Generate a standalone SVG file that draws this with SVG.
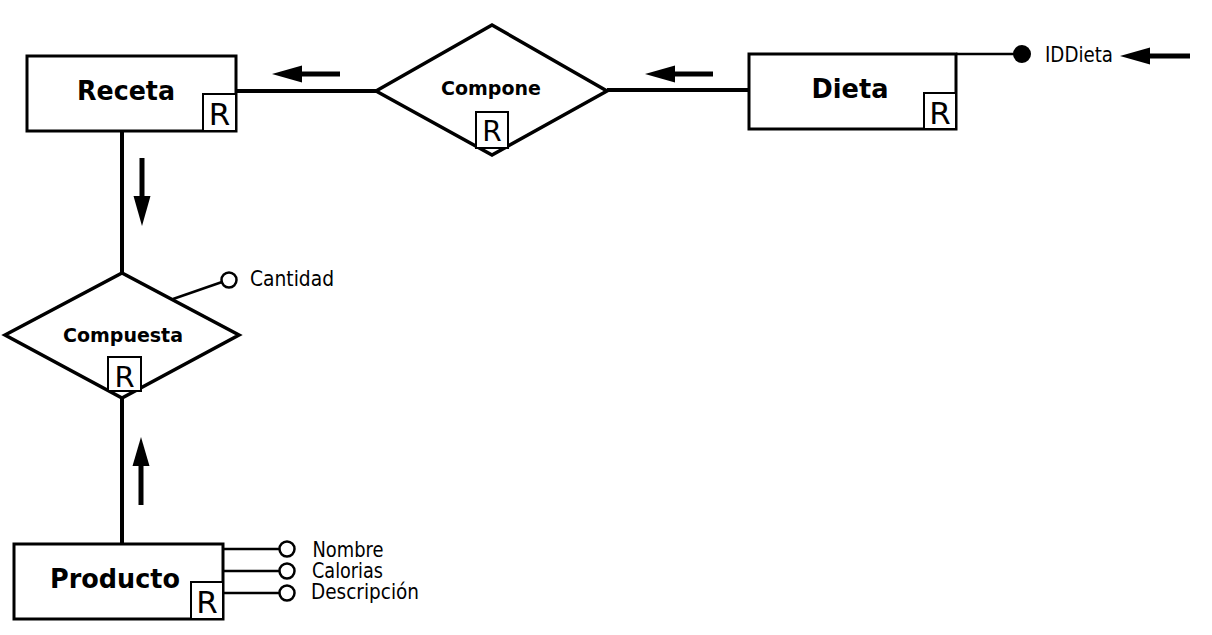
<svg xmlns="http://www.w3.org/2000/svg" width="1212" height="635" viewBox="0 0 1212 635">
<style>
.ent{fill:#fff;stroke:#000;stroke-width:3}
.rel{fill:#fff;stroke:#000;stroke-width:3.5;stroke-linejoin:miter}
.rbox{fill:#fff;stroke:#000;stroke-width:2}
.rtxt{font-family:"DejaVu Sans",sans-serif;font-size:31px;text-anchor:middle;fill:#000}
.etxt{font-family:"DejaVu Sans",sans-serif;font-weight:bold;font-size:27px;text-anchor:middle;fill:#000}
.reltxt{font-family:"DejaVu Sans",sans-serif;font-weight:bold;font-size:19px;text-anchor:middle;fill:#000}
.atxt{font-family:"DejaVu Sans",sans-serif;font-size:21.5px;fill:#000}
.conn{stroke:#000;stroke-width:4;fill:none}
.aline{stroke:#000;stroke-width:2.5;fill:none}
.acirc{fill:#fff;stroke:#000;stroke-width:2.5}
.shaft{stroke:#000;stroke-width:5;fill:none}
.head{fill:#000}
</style>
<rect width="1212" height="635" fill="#fff"/>
<g id="connectors">
<line class="conn" x1="236" y1="91" x2="376" y2="91"/>
<line class="conn" x1="607" y1="90" x2="749" y2="90"/>
<line class="conn" x1="122" y1="131" x2="122" y2="273"/>
<line class="conn" x1="122" y1="398" x2="122" y2="544"/>
</g>
<g id="direction-arrows">
<line class="shaft" x1="300" y1="74" x2="340" y2="74"/>
<polygon class="head" points="272,74 302,65.5 302,82.5"/>
<line class="shaft" x1="675" y1="74" x2="713" y2="74"/>
<polygon class="head" points="645,74 675,65.5 675,82.5"/>
<line class="shaft" x1="1150" y1="56" x2="1190" y2="56"/>
<polygon class="head" points="1120,56 1150,47.5 1150,64.5"/>
<line class="shaft" x1="142" y1="158" x2="142" y2="198"/>
<polygon class="head" points="142,226 133.5,196 150.5,196"/>
<line class="shaft" x1="141" y1="464" x2="141" y2="505"/>
<polygon class="head" points="141,437 132.5,466 149.5,466"/>
</g>
<g id="receta">
<rect class="ent" x="27" y="56" width="209" height="75"/>
<text class="etxt" x="126" y="100" textLength="98" lengthAdjust="spacingAndGlyphs">Receta</text>
<rect class="rbox" x="203" y="94" width="33" height="37"/>
<text class="rtxt" x="219.5" y="125">R</text>
</g>
<g id="compone">
<polygon class="rel" points="376,91 492,25 607,91 492,155"/>
<text class="reltxt" x="491" y="95">Compone</text>
<rect class="rbox" x="476" y="112" width="32" height="36"/>
<text class="rtxt" x="492" y="141" style="font-size:28px">R</text>
</g>
<g id="dieta">
<rect class="ent" x="749" y="54" width="207" height="75"/>
<text class="etxt" x="850" y="98" textLength="77" lengthAdjust="spacingAndGlyphs">Dieta</text>
<rect class="rbox" x="924" y="93" width="32" height="36"/>
<text class="rtxt" x="940" y="124">R</text>
</g>
<g id="attr-iddieta">
<line class="aline" x1="956" y1="54" x2="1015" y2="54"/>
<circle cx="1022" cy="54" r="9" fill="#000"/>
<text class="atxt" x="1045" y="62" textLength="68" lengthAdjust="spacingAndGlyphs">IDDieta</text>
</g>
<g id="compuesta">
<polygon class="rel" points="5,335 122,273 239,335 122,398"/>
<text class="reltxt" x="123" y="342">Compuesta</text>
<rect class="rbox" x="108" y="357" width="33" height="34"/>
<text class="rtxt" x="124.5" y="387" style="font-size:29px">R</text>
</g>
<g id="attr-cantidad">
<line class="aline" x1="173" y1="299" x2="222" y2="282"/>
<circle class="acirc" cx="229" cy="280" r="7.5"/>
<text class="atxt" x="250" y="286" textLength="84" lengthAdjust="spacingAndGlyphs">Cantidad</text>
</g>
<g id="producto">
<rect class="ent" x="14" y="544" width="209" height="75"/>
<text class="etxt" x="115" y="588" textLength="130" lengthAdjust="spacingAndGlyphs">Producto</text>
<rect class="rbox" x="191" y="582" width="32" height="37"/>
<text class="rtxt" x="207" y="613">R</text>
</g>
<g id="attr-producto">
<line class="aline" x1="223" y1="549" x2="280" y2="549"/>
<circle class="acirc" cx="287" cy="549" r="7.5"/>
<text class="atxt" x="312.5" y="557" textLength="71" lengthAdjust="spacingAndGlyphs">Nombre</text>
<line class="aline" x1="223" y1="571" x2="280" y2="571"/>
<circle class="acirc" cx="287" cy="571" r="7.5"/>
<text class="atxt" x="312" y="578" textLength="71" lengthAdjust="spacingAndGlyphs">Calorias</text>
<line class="aline" x1="223" y1="593" x2="280" y2="593"/>
<circle class="acirc" cx="287" cy="593" r="7.5"/>
<text class="atxt" x="311" y="599" textLength="108" lengthAdjust="spacingAndGlyphs">Descripción</text>
</g>
</svg>
